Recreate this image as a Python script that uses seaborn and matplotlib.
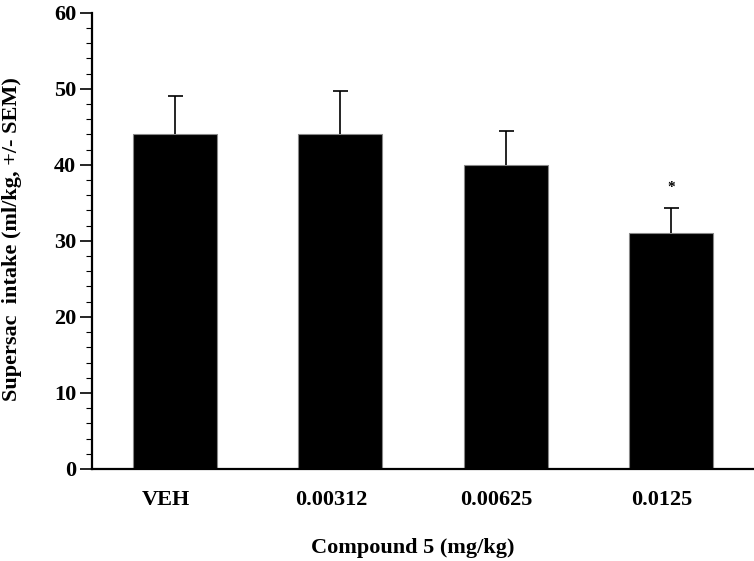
import matplotlib
matplotlib.use("Agg")
import matplotlib.pyplot as plt
from matplotlib.ticker import MultipleLocator
import matplotlib.transforms as mtransforms
import seaborn as sns
import pandas as pd

categories = ["VEH", "0.00312", "0.00625", "0.0125"]
means = [44.0, 44.0, 40.0, 31.0]
sems = [5.1, 5.7, 4.4, 3.3]
stars = ["", "", "", "*"]

sns.set_style("ticks")
plt.rcParams['font.family'] = ['Liberation Serif', 'DejaVu Serif']
plt.rcParams['font.weight'] = 'bold'
plt.rcParams['text.color'] = 'black'
plt.rcParams['axes.labelcolor'] = 'black'
plt.rcParams['xtick.color'] = 'black'
plt.rcParams['ytick.color'] = 'black'
plt.rcParams['axes.edgecolor'] = 'black'

df = pd.DataFrame({"dose": categories, "intake": means})

fig = plt.figure(figsize=(7.54, 5.61), dpi=100)
ax = fig.add_axes([92/754, 92/561, 662/754, (469-12.7)/561])

sns.barplot(data=df, x="dose", y="intake", order=categories, color="black",
            errorbar=None, width=0.51, edgecolor="#888888", linewidth=0.8,
            saturation=1, ax=ax)
eb = ax.errorbar(range(len(categories)), means, yerr=[[0]*len(sems), sems],
                 fmt="none", ecolor="black", elinewidth=1.2, capsize=5.4,
                 capthick=1.2, zorder=1)
# hide lower caps (only upper SEM shown)
eb[1][0].set_visible(False)
for i, (m, s, st) in enumerate(zip(means, sems, stars)):
    if st:
        ax.text(i, m + s + 1.8, st, ha="center", va="bottom", fontsize=11,
                fontweight="bold")

ax.set_xlim(-0.5, 3.5)
ax.set_ylim(0, 60)
ax.yaxis.set_major_locator(MultipleLocator(10))
ax.yaxis.set_minor_locator(MultipleLocator(2))
ax.tick_params(axis="y", which="major", length=9, width=1.2, labelsize=16, pad=2.5)
ax.tick_params(axis="y", which="minor", length=4.5, width=0.8)
ax.tick_params(axis="x", which="both", length=0, labelsize=16, pad=15)
offset = mtransforms.ScaledTranslation(-9/100, 0, fig.dpi_scale_trans)
for lab in ax.get_xticklabels():
    lab.set_fontweight("bold")
    lab.set_transform(lab.get_transform() + offset)
for lab in ax.get_yticklabels():
    lab.set_fontweight("bold")
sns.despine(ax=ax)
ax.spines["left"].set_linewidth(1.6)
ax.spines["bottom"].set_linewidth(1.6)

ax.set_xlabel("Compound 5 (mg/kg)", fontsize=16, fontweight="bold", va="center")
ax.xaxis.set_label_coords((413-92)/662, (469-548)/456.3)
ax.set_ylabel("Supersac  intake (ml/kg, +/- SEM)", fontsize=16,
              fontweight="bold", va="center")
ax.yaxis.set_label_coords((12-92)/662, (469-239)/456.3)

fig.savefig("out.png", dpi=100)
